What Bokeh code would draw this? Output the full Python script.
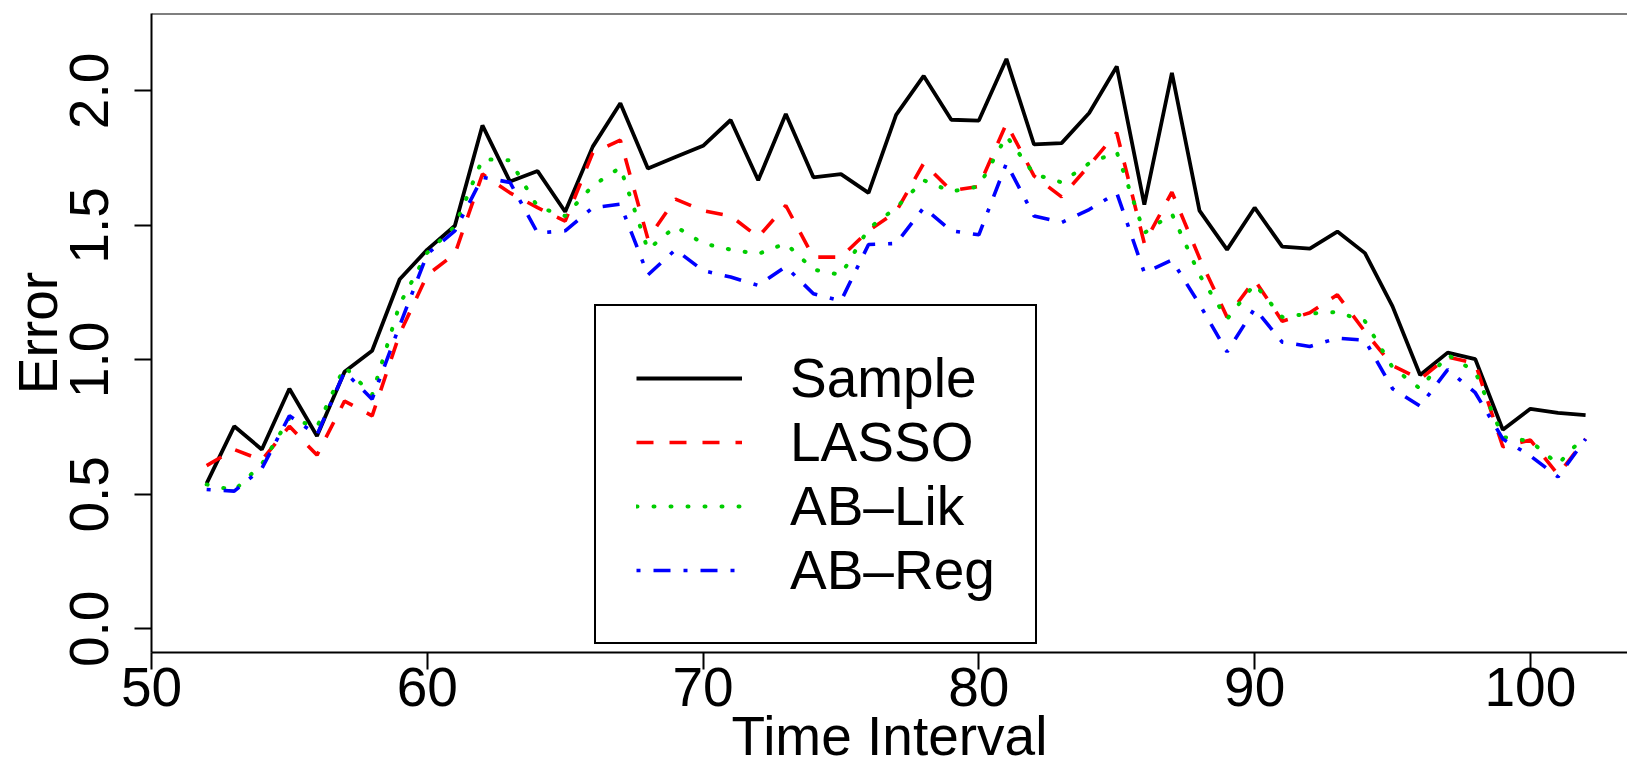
from bokeh.plotting import figure
from bokeh.models import Range1d, FixedTicker, Legend, LegendItem, Span, PrintfTickFormatter
from bokeh.embed import file_html
from bokeh.resources import INLINE

# ---- data -------------------------------------------------------------
intervals = list(range(52, 103))
sample = [0.541, 0.753, 0.667, 0.893, 0.717, 0.956, 1.034, 1.300, 1.410, 1.499,
          1.872, 1.663, 1.702, 1.551, 1.793, 1.954, 1.712, 1.754, 1.796, 1.892,
          1.668, 1.914, 1.679, 1.691, 1.621, 1.911, 2.056, 1.893, 1.890, 2.119,
          1.801, 1.806, 1.918, 2.091, 1.577, 2.067, 1.555, 1.410, 1.566, 1.421,
          1.414, 1.477, 1.397, 1.199, 0.944, 1.027, 1.003, 0.740, 0.818, 0.803,
          0.795]
lasso = [0.607, 0.667, 0.627, 0.753, 0.646, 0.847, 0.792, 1.097, 1.316, 1.394,
         1.691, 1.621, 1.566, 1.516, 1.770, 1.817, 1.450, 1.598, 1.555, 1.535,
         1.457, 1.574, 1.382, 1.382, 1.480, 1.551, 1.731, 1.629, 1.645, 1.879,
         1.684, 1.606, 1.723, 1.845, 1.433, 1.624, 1.379, 1.159, 1.297, 1.144,
         1.175, 1.242, 1.105, 0.979, 0.928, 1.011, 0.987, 0.677, 0.702, 0.573,
         0.706]
ab_lik = [0.537, 0.515, 0.612, 0.784, 0.750, 0.975, 0.870, 1.207, 1.399, 1.496,
          1.746, 1.742, 1.569, 1.535, 1.648, 1.715, 1.410, 1.496, 1.433, 1.410,
          1.394, 1.433, 1.336, 1.316, 1.488, 1.566, 1.668, 1.626, 1.645, 1.832,
          1.691, 1.660, 1.731, 1.773, 1.472, 1.543, 1.316, 1.152, 1.282, 1.159,
          1.172, 1.178, 1.144, 0.972, 0.893, 1.019, 0.956, 0.713, 0.698, 0.612,
          0.721]
ab_reg = [0.518, 0.512, 0.596, 0.792, 0.721, 0.956, 0.854, 1.128, 1.394, 1.480,
          1.679, 1.660, 1.472, 1.480, 1.566, 1.579, 1.316, 1.410, 1.332, 1.308,
          1.277, 1.347, 1.246, 1.219, 1.429, 1.433, 1.566, 1.480, 1.465, 1.731,
          1.535, 1.511, 1.559, 1.621, 1.324, 1.371, 1.207, 1.030, 1.191, 1.066,
          1.050, 1.081, 1.073, 0.893, 0.828, 0.964, 0.878, 0.706, 0.643, 0.565,
          0.706]
series_names = ["Sample", "LASSO", "AB–Lik", "AB–Reg"]
x_ticks = [50, 60, 70, 80, 90, 100]
y_ticks = [0.0, 0.5, 1.0, 1.5, 2.0]

FONT = "Liberation Sans"
FS = "55px"

p = figure(width=1627, height=770, output_backend="svg", toolbar_location=None,
           x_range=Range1d(50, 103.52), y_range=Range1d(-0.088, 2.288),
           min_border_left=151, min_border_right=0, min_border_top=13, min_border_bottom=118)
p.outline_line_color = None
p.grid.visible = False
p.background_fill_color = "white"
p.border_fill_color = "white"

r1 = p.line(intervals, sample, line_color="black", line_width=3.8)
r2 = p.line(intervals, lasso, line_color="#FF0000", line_width=3.6, line_dash="17 16")
r3 = p.line(intervals, ab_lik, line_color="#00CD00", line_width=4.0, line_dash="1 16",
            line_cap="round")
r4 = p.line(intervals, ab_reg, line_color="#0000FF", line_width=3.6, line_dash="4 13 17 13")

# axes
for ax in (p.xaxis[0], p.yaxis[0]):
    ax.axis_line_width = 2
    ax.axis_line_color = "black"
    ax.major_tick_line_width = 2
    ax.major_tick_in = 0
    ax.major_tick_out = 17
    ax.minor_tick_line_color = None
    ax.major_label_text_font = FONT
    ax.major_label_text_font_size = FS
    ax.major_label_text_color = "black"
    ax.axis_label_text_font = FONT
    ax.axis_label_text_font_size = FS
    ax.axis_label_text_font_style = "normal"
    ax.axis_label_text_color = "black"

p.xaxis.ticker = FixedTicker(ticks=x_ticks)
p.xaxis.major_label_standoff = -2
p.xaxis.axis_label = "Time Interval"
p.xaxis.axis_label_standoff = -4
p.xaxis.axis_label_text_line_height = 1.0

p.yaxis.ticker = FixedTicker(ticks=y_ticks)
p.yaxis.formatter = PrintfTickFormatter(format="%.1f")
p.yaxis.major_label_orientation = "vertical"
p.yaxis.major_label_standoff = 26
p.yaxis.axis_label = "Error"
p.yaxis.axis_label_standoff = -1

# top border line of the box
p.add_layout(Span(location=2.288, dimension="width", line_color="black", line_width=2))

legend = Legend(items=[LegendItem(label=n, renderers=[r]) for n, r in
                       zip(series_names, [r1, r2, r3, r4])],
                location=(443, 8), margin=0, padding=40, spacing=0,
                glyph_width=106, glyph_height=64, label_standoff=48,
                label_text_font=FONT, label_text_font_size=FS,
                label_text_line_height=1.15, label_text_color="black",
                border_line_color="black", border_line_width=2, border_line_alpha=1.0,
                background_fill_color="white", background_fill_alpha=1.0)
p.add_layout(legend)

open("out.html", "w").write(file_html(p, INLINE))
